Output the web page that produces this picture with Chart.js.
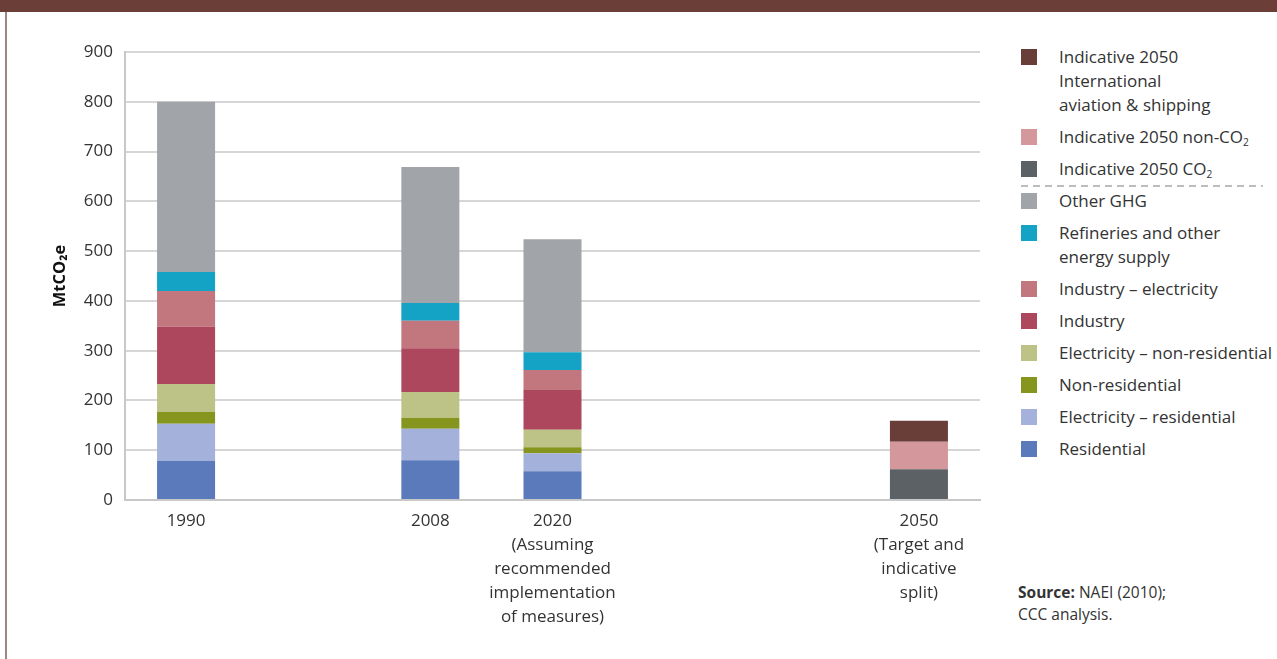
<!DOCTYPE html>
<html>
<head>
<meta charset="utf-8">
<script src="https://cdn.jsdelivr.net/npm/chart.js@4.4.1/dist/chart.umd.min.js"></script>
<style>
  html,body{margin:0;padding:0;background:#fff;}
  body{width:1277px;height:659px;position:relative;overflow:hidden;font-family:"Open Sans",sans-serif;color:#333;}
  #topbar{position:absolute;left:0;top:0;width:1277px;height:12px;background:#6b3e37;}
  #leftbar{position:absolute;left:5px;top:12px;width:2px;height:647px;background:#a08682;}
  #wrap{position:absolute;left:0;top:0;width:990px;height:659px;}
  #legend{position:absolute;left:1021px;top:45px;width:256px;font-size:17px;line-height:24px;color:#333;}
  .lg-item{display:flex;align-items:flex-start;padding-bottom:8px;height:24px;}
  .lg-item.multi{height:auto;}
  .lg-box{width:16px;height:16px;margin-top:4px;flex:0 0 16px;}
  .lg-text{margin-left:22px;white-space:nowrap;}
  .lg-sep{width:242px;height:1.5px;margin:-4px 0 2.5px 0;
    background:repeating-linear-gradient(to right,#bdbdbd 0 7px,transparent 7px 12px);}
  sub{font-size:60%;line-height:0;vertical-align:baseline;position:relative;top:0.3em;}
  #source{position:absolute;left:1018px;top:581px;font-size:15.5px;line-height:22px;color:#333;}
</style>
</head>
<body>
<div id="topbar"></div>
<div id="leftbar"></div>
<div id="wrap"><canvas id="chart"></canvas></div>
<div id="legend"></div>
<div id="source"><b>Source:</b> NAEI (2010);<br>CCC analysis.</div>
<script>
/* ---------- Data ---------- */
// 7 slots so the bars sit at the same spacing as the original (gaps are blank)
const LABELS = [
  '1990',
  '',
  '2008',
  ['2020','(Assuming','recommended','implementation','of measures)'],
  '',
  '',
  ['2050','(Target and','indicative','split)']
];
// bottom -> top of the stack
const SERIES_NAMES = [
  'Residential',
  'Electricity – residential',
  'Non-residential',
  'Electricity – non-residential',
  'Industry',
  'Industry – electricity',
  'Refineries and other energy supply',
  'Other GHG',
  'Indicative 2050 CO₂',
  'Indicative 2050 non-CO₂',
  'Indicative 2050 International aviation & shipping'
];
const LEGEND_LINES = {
  'Refineries and other energy supply': ['Refineries and other','energy supply'],
  'Indicative 2050 International aviation & shipping': ['Indicative 2050','International','aviation & shipping']
};
const COLORS = [
  '#5a7abc','#a4b1db','#85951e','#bdc386','#ad475d','#c2767e',
  '#14a2c5','#a1a4a8','#5c6165','#d3979c','#6a3e38'
];
const residential     = [79, null, 80, 58, null, null, null];
const elecResidential = [74, null, 63, 36, null, null, null];
const nonResidential  = [24, null, 22, 12, null, null, null];
const elecNonRes      = [56, null, 52, 35, null, null, null];
const industry        = [115, null, 88, 80, null, null, null];
const industryElec    = [72, null, 55, 40, null, null, null];
const refineries      = [38, null, 36, 36, null, null, null];
const otherGhg        = [342, null, 273, 227, null, null, null];
const co2_2050        = [null, null, null, null, null, null, 62];
const nonCo2_2050     = [null, null, null, null, null, null, 55];
const aviation_2050   = [null, null, null, null, null, null, 42];
const SERIES = [residential, elecResidential, nonResidential, elecNonRes, industry,
  industryElec, refineries, otherGhg, co2_2050, nonCo2_2050, aviation_2050];

const Y_MAX = 900, Y_STEP = 100;

/* ---------- Chart ---------- */
const FONT = '"Open Sans", sans-serif';
const datasets = SERIES.map((d,i)=>({
  label: SERIES_NAMES[i],
  data: d,
  backgroundColor: COLORS[i],
  borderWidth: 0,
  barPercentage: 0.475,
  categoryPercentage: 1
}));

new Chart(document.getElementById('chart'), {
  type: 'bar',
  data: { labels: LABELS, datasets },
  options: {
    responsive: true,
    maintainAspectRatio: false,
    animation: false,
    layout: { padding: { top: 52, right: 10, left: 0, bottom: 0 } },
    plugins: { legend: { display: false }, tooltip: { enabled: false } },
    scales: {
      x: {
        stacked: true,
        grid: { display: false, drawTicks: false },
        border: { display: true, color: '#c8c8c8', width: 2 },
        ticks: {
          color: '#333', padding: 9, maxRotation: 0, autoSkip: false,
          font: { family: FONT, size: 17, lineHeight: 24/17 }
        },
        afterFit: s => { s.height = 159; }
      },
      y: {
        stacked: true,
        min: 0, max: Y_MAX,
        grid: { color: '#d6d6d6', lineWidth: 2, drawTicks: false },
        border: { display: true, color: '#c8c8c8', width: 2 },
        ticks: {
          stepSize: Y_STEP, color: '#333', padding: 12,
          font: { family: FONT, size: 17 }
        },
        title: {
          display: true, text: 'MtCO₂e', color: '#111',
          font: { family: FONT, size: 16.5, weight: 'bold' },
          padding: { top: 50, bottom: 0 }
        },
        afterFit: s => { s.width = 125; }
      }
    }
  }
});

/* ---------- Legend (top of stack first) ---------- */
function esc(t){ return t.replace(/&/g,'&amp;').replace(/₂/g,'<sub>2</sub>'); }
const legend = document.getElementById('legend');
let html = '';
for (let i = SERIES_NAMES.length - 1; i >= 0; i--) {
  const name = SERIES_NAMES[i];
  const lines = LEGEND_LINES[name] || [name];
  html += `<div class="lg-item${lines.length > 1 ? ' multi' : ''}"><div class="lg-box" style="background:${COLORS[i]}"></div>` +
          `<div class="lg-text">${lines.map(esc).join('<br>')}</div></div>`;
  if (i === 8) html += '<div class="lg-sep"></div>';
}
legend.innerHTML = html;
</script>
</body>
</html>
